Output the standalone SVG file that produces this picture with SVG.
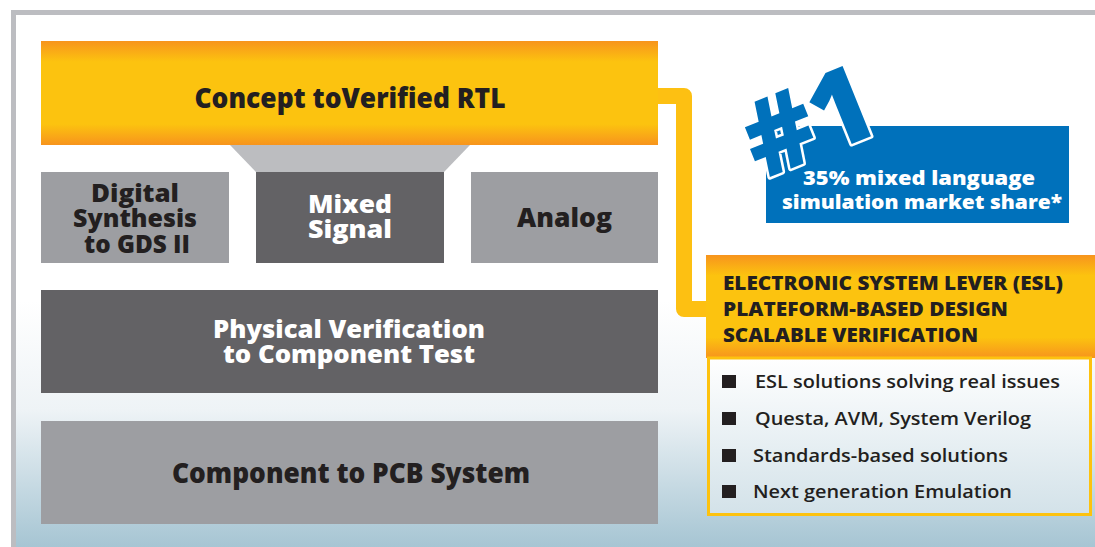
<svg xmlns="http://www.w3.org/2000/svg" width="1095" height="547" viewBox="0 0 1095 547">
<defs>
<linearGradient id="bg" x1="0" y1="0" x2="0" y2="547" gradientUnits="userSpaceOnUse">
<stop offset="0" stop-color="#ffffff"/>
<stop offset="0.55" stop-color="#ffffff"/>
<stop offset="0.75" stop-color="#eef3f6"/>
<stop offset="1" stop-color="#a6c5d3"/>
</linearGradient>
<linearGradient id="gold" x1="0" y1="0" x2="0" y2="1">
<stop offset="0" stop-color="#f7941d"/>
<stop offset="0.2" stop-color="#fcc30f"/>
<stop offset="0.8" stop-color="#fcc30f"/>
<stop offset="1" stop-color="#f7941d"/>
</linearGradient>
<linearGradient id="list" x1="0" y1="0" x2="0" y2="1">
<stop offset="0" stop-color="#ffffff"/>
<stop offset="1" stop-color="#d3e2e9"/>
</linearGradient>
<style>
.t{font-family:"Open Sans","Noto Sans","Liberation Sans",sans-serif;font-weight:800;text-anchor:middle}
.dark{fill:#231f20}
.white{fill:#ffffff}
.lt{fill:#9d9ea2}
.dk{fill:#636265}
.li{font-family:"Open Sans","Noto Sans","Liberation Sans",sans-serif;font-weight:600;font-size:18px;fill:#231f20}
.hd{font-family:"Open Sans","Noto Sans","Liberation Sans",sans-serif;font-weight:800;font-size:19px;fill:#231f20}
.bl{fill:#231f20}
</style>
</defs>
<g id="frame">
<rect x="11" y="10" width="1084" height="537" fill="#bcbdc1"/>
<rect x="16" y="15" width="1079" height="532" fill="url(#bg)"/>
</g>
<g id="connectors">
<path d="M658,96 H684 V309 H712" fill="none" stroke="#fdc012" stroke-width="16" stroke-linejoin="round"/>
<polygon points="230,145 470,145 444,172 256,172" fill="#bcbdc0"/>
</g>
<g id="concept">
<rect x="41" y="41" width="617" height="104" fill="url(#gold)"/>
<text class="t dark" x="350" y="108" font-size="29" textLength="311" lengthAdjust="spacingAndGlyphs">Concept toVerified RTL</text>
</g>
<g id="digital">
<rect x="41" y="172" width="188" height="91" class="lt"/>
<text class="t dark" font-size="25"><tspan x="135" y="202" textLength="88" lengthAdjust="spacingAndGlyphs">Digital</tspan><tspan x="135" y="227" textLength="124" lengthAdjust="spacingAndGlyphs">Synthesis</tspan><tspan x="137" y="253" textLength="106" lengthAdjust="spacingAndGlyphs">to GDS II</tspan></text>
</g>
<g id="mixed">
<rect x="256" y="172" width="188" height="91" class="dk"/>
<text class="t white" font-size="25"><tspan x="350" y="213" textLength="84" lengthAdjust="spacingAndGlyphs">Mixed</tspan><tspan x="350" y="238" textLength="84" lengthAdjust="spacingAndGlyphs">Signal</tspan></text>
</g>
<g id="analog">
<rect x="471" y="172" width="187" height="91" class="lt"/>
<text class="t dark" x="564.5" y="227" font-size="26" textLength="95" lengthAdjust="spacingAndGlyphs">Analog</text>
</g>
<g id="physical">
<rect x="41" y="290" width="617" height="103" class="dk"/>
<text class="t white" font-size="25"><tspan x="349" y="338" textLength="272" lengthAdjust="spacingAndGlyphs">Physical Verification</tspan><tspan x="349" y="363" textLength="252" lengthAdjust="spacingAndGlyphs">to Component Test</tspan></text>
</g>
<g id="pcb">
<rect x="41" y="421" width="617" height="103" class="lt"/>
<text class="t dark" x="351" y="483" font-size="28" textLength="358" lengthAdjust="spacingAndGlyphs">Component to PCB System</text>
</g>
<g id="share">
<rect x="766" y="126" width="303" height="97" fill="#0071bb"/>
<text class="t" font-size="106" fill="#0071bb" stroke="#ffffff" stroke-width="5" paint-order="stroke" stroke-linejoin="round" transform="translate(822,156) rotate(-22)" x="0" y="0">#1</text>
<text class="t white" font-size="19"><tspan x="919" y="185" textLength="232" lengthAdjust="spacingAndGlyphs">35% mixed language</tspan><tspan x="922" y="209" textLength="280" lengthAdjust="spacingAndGlyphs">simulation market share*</tspan></text>
</g>
<g id="esl">
<rect x="706" y="255" width="389" height="103" fill="url(#gold)"/>
<text class="hd"><tspan x="723" y="290" textLength="340" lengthAdjust="spacingAndGlyphs">ELECTRONIC SYSTEM LEVER (ESL)</tspan><tspan x="723" y="316" textLength="285" lengthAdjust="spacingAndGlyphs">PLATEFORM-BASED DESIGN</tspan><tspan x="723" y="342" textLength="255" lengthAdjust="spacingAndGlyphs">SCALABLE VERIFICATION</tspan></text>
</g>
<g id="esl-list">
<rect x="708.5" y="358" width="382" height="156.5" fill="url(#list)" stroke="#fdc20f" stroke-width="3"/>
<rect x="722" y="375" width="14" height="13" class="bl"/>
<rect x="722" y="412" width="14" height="13" class="bl"/>
<rect x="722" y="449" width="14" height="13" class="bl"/>
<rect x="722" y="485" width="14" height="13" class="bl"/>
<text class="li" x="755" y="388" textLength="305" lengthAdjust="spacingAndGlyphs">ESL solutions solving real issues</text>
<text class="li" x="755" y="425" textLength="276" lengthAdjust="spacingAndGlyphs">Questa, AVM, System Verilog</text>
<text class="li" x="753" y="462" textLength="255" lengthAdjust="spacingAndGlyphs">Standards-based solutions</text>
<text class="li" x="753" y="498" textLength="259" lengthAdjust="spacingAndGlyphs">Next generation Emulation</text>
</g>
</svg>
